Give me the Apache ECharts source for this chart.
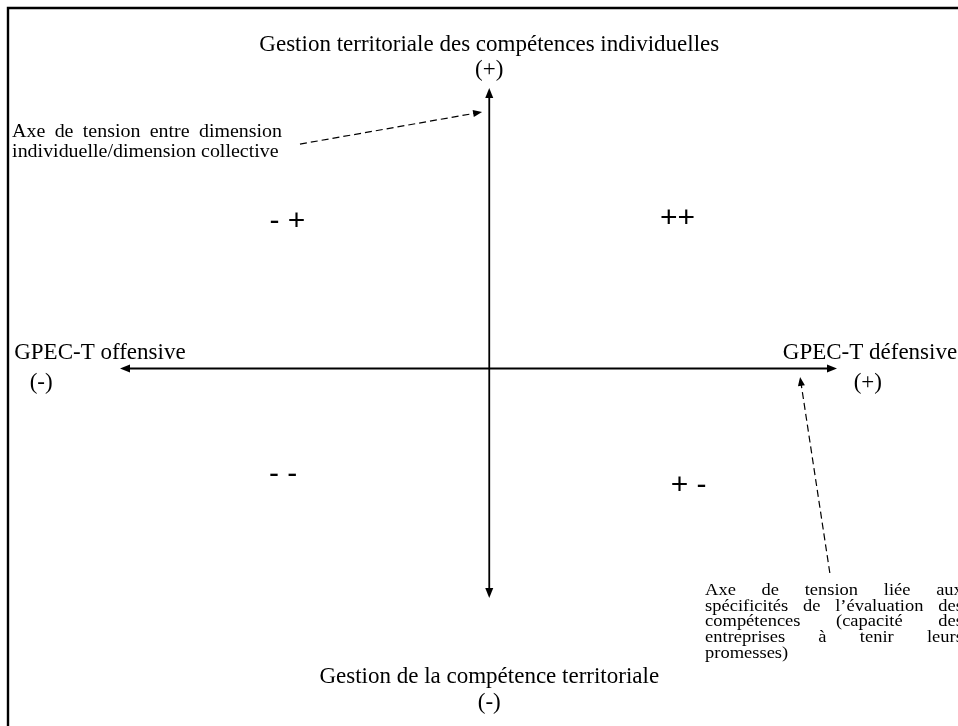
<!DOCTYPE html>
<html>
<head>
<meta charset="utf-8">
<script src="https://cdn.jsdelivr.net/npm/echarts@6/dist/echarts.min.js"></script>
<style>
  html, body { margin: 0; padding: 0; background: #fff; }
  #main { width: 958px; height: 726px; }
</style>
</head>
<body>
<div id="main"></div>
<script>
// diagram units: each arrow of the cross runs from -100 to 100
const axisLines = [
  [-100, -10, 100, -10],
  [3, 100, 3, -100]
];
const tensionLines = [
  [-49.8, 78, 1.0, 90.6],
  [98.0, -90.2, 89.7, -13.3]
];

const poleLabels = [
  'Gestion territoriale des compétences individuelles', '(+)',
  'Gestion de la compétence territoriale', '(-)',
  'GPEC-T offensive', '(-)',
  'GPEC-T défensive', '(+)'
];
const poleX = [3, 3, 3, 3, -105.6, -122, 109.2, 108.6];
const poleY = [117, 107, -131, -141, -4, -15.7, -4, -15.7];

const quadrantLabels = ['- +', '++', '- -', '+ -'];
const quadrantX = [-53.3, 55.5, -54.5, 58.6];
const quadrantY = [47.5, 48.6, -51.8, -56.1];

const noteLines = [
  ['Axe de tension entre dimension', 'individuelle/dimension collective'],
  ['Axe de tension liée aux', 'spécificités de l’évaluation des',
   'compétences (capacité des', 'entreprises à tenir leurs', 'promesses)']
];
const noteLeft = [-130.1, 63.2];
const noteRight = [-54.8, 135.1];
const noteTop = [82.7, -96.9];

const serif = '"Liberation Serif", "Times New Roman", serif';
const stretch = 1.05;
const poleFont = '23px ' + serif;
const noteFonts = ['19px ' + serif, '17.6px ' + serif];
const noteLineHeight = [20, 15.8];

const measure = document.createElement('canvas').getContext('2d');
function textWidth(str, font) {
  measure.font = font;
  return measure.measureText(str).width * stretch;
}

function head(tip, from, len, half) {
  const dx = tip[0] - from[0], dy = tip[1] - from[1];
  const d = Math.hypot(dx, dy);
  const ux = dx / d, uy = dy / d;
  const bx = tip[0] - ux * len, by = tip[1] - uy * len;
  return {
    type: 'polygon',
    shape: { points: [tip, [bx - uy * half, by + ux * half], [bx + uy * half, by - ux * half]] },
    style: { fill: '#000' }
  };
}
function shorten(tip, from, len) {
  const dx = tip[0] - from[0], dy = tip[1] - from[1];
  const d = Math.hypot(dx, dy);
  return [tip[0] - dx / d * len, tip[1] - dy / d * len];
}

var chartDom = document.getElementById('main');
var myChart = echarts.init(chartDom, null, { renderer: 'canvas' });
var option;

option = {
  animation: false,
  grid: { left: 120, right: 121, top: 88, bottom: 128, show: false },
  xAxis: { type: 'value', min: -100, max: 100, show: false },
  yAxis: { type: 'value', min: -100, max: 100, show: false },
  graphic: [{
    type: 'rect',
    shape: { x: 8, y: 8, width: 990, height: 760 },
    style: { fill: 'none', stroke: '#000', lineWidth: 2.4 },
    silent: true
  }],
  series: [
    {
      type: 'custom',
      silent: true,
      clip: false,
      data: axisLines,
      encode: { x: [0, 2], y: [1, 3] },
      renderItem: function (params, api) {
        const a = api.coord([api.value(0), api.value(1)]);
        const b = api.coord([api.value(2), api.value(3)]);
        const a2 = shorten(a, b, 6), b2 = shorten(b, a, 6);
        return {
          type: 'group',
          children: [
            { type: 'line', shape: { x1: a2[0], y1: a2[1], x2: b2[0], y2: b2[1] },
              style: { stroke: '#000', lineWidth: 1.8 } },
            head(a, b, 10, 4),
            head(b, a, 10, 4)
          ]
        };
      }
    },
    {
      type: 'custom',
      silent: true,
      clip: false,
      data: tensionLines,
      encode: { x: [0, 2], y: [1, 3] },
      renderItem: function (params, api) {
        const a = api.coord([api.value(0), api.value(1)]);
        const b = api.coord([api.value(2), api.value(3)]);
        const b2 = shorten(b, a, 6);
        return {
          type: 'group',
          children: [
            { type: 'line', shape: { x1: a[0], y1: a[1], x2: b2[0], y2: b2[1] },
              style: { stroke: '#000', lineWidth: 1.2, lineDash: [7, 4] } },
            head(b, a, 9, 3.5)
          ]
        };
      }
    },
    {
      type: 'custom',
      silent: true,
      clip: false,
      data: poleX.map((x, i) => [x, poleY[i], i]),
      renderItem: function (params, api) {
        const p = api.coord([api.value(0), api.value(1)]);
        return {
          type: 'text', x: p[0], y: p[1],
          style: { text: poleLabels[api.value(2)], font: poleFont, fill: '#000',
                   textAlign: 'center', textVerticalAlign: 'middle' }
        };
      }
    },
    {
      type: 'custom',
      silent: true,
      clip: false,
      data: quadrantX.map((x, i) => [x, quadrantY[i], i]),
      renderItem: function (params, api) {
        const p = api.coord([api.value(0), api.value(1)]);
        return {
          type: 'text', x: p[0], y: p[1],
          style: { text: quadrantLabels[api.value(2)], font: '30px "Liberation Sans", Arial, sans-serif',
                   fill: '#000', textAlign: 'center', textVerticalAlign: 'middle' }
        };
      }
    },
    {
      type: 'custom',
      silent: true,
      clip: false,
      data: noteLeft.map((x, i) => [x, noteTop[i], noteRight[i], i]),
      renderItem: function (params, api) {
        const k = api.value(3);
        const left = api.coord([api.value(0), api.value(1)]);
        const right = api.coord([api.value(2), api.value(1)]);
        const width = right[0] - left[0];
        const font = noteFonts[k];
        const lines = noteLines[k];
        const children = [];
        lines.forEach(function (line, li) {
          const words = line.split(' ');
          const widths = words.map(w => textWidth(w, font));
          const total = widths.reduce((s, w) => s + w, 0);
          const last = li === lines.length - 1;
          const gap = (last || words.length < 2) ? textWidth(' ', font) : (width - total) / (words.length - 1);
          let x = left[0];
          const y = left[1] + li * noteLineHeight[k];
          words.forEach(function (w, wi) {
            children.push({
              type: 'text', x: x, y: y, scaleX: stretch,
              style: { text: w, font: font, fill: '#000', textAlign: 'left', textVerticalAlign: 'middle' }
            });
            x += widths[wi] + gap;
          });
        });
        return { type: 'group', children: children };
      }
    }
  ]
};

option && myChart.setOption(option);
</script>
</body>
</html>
